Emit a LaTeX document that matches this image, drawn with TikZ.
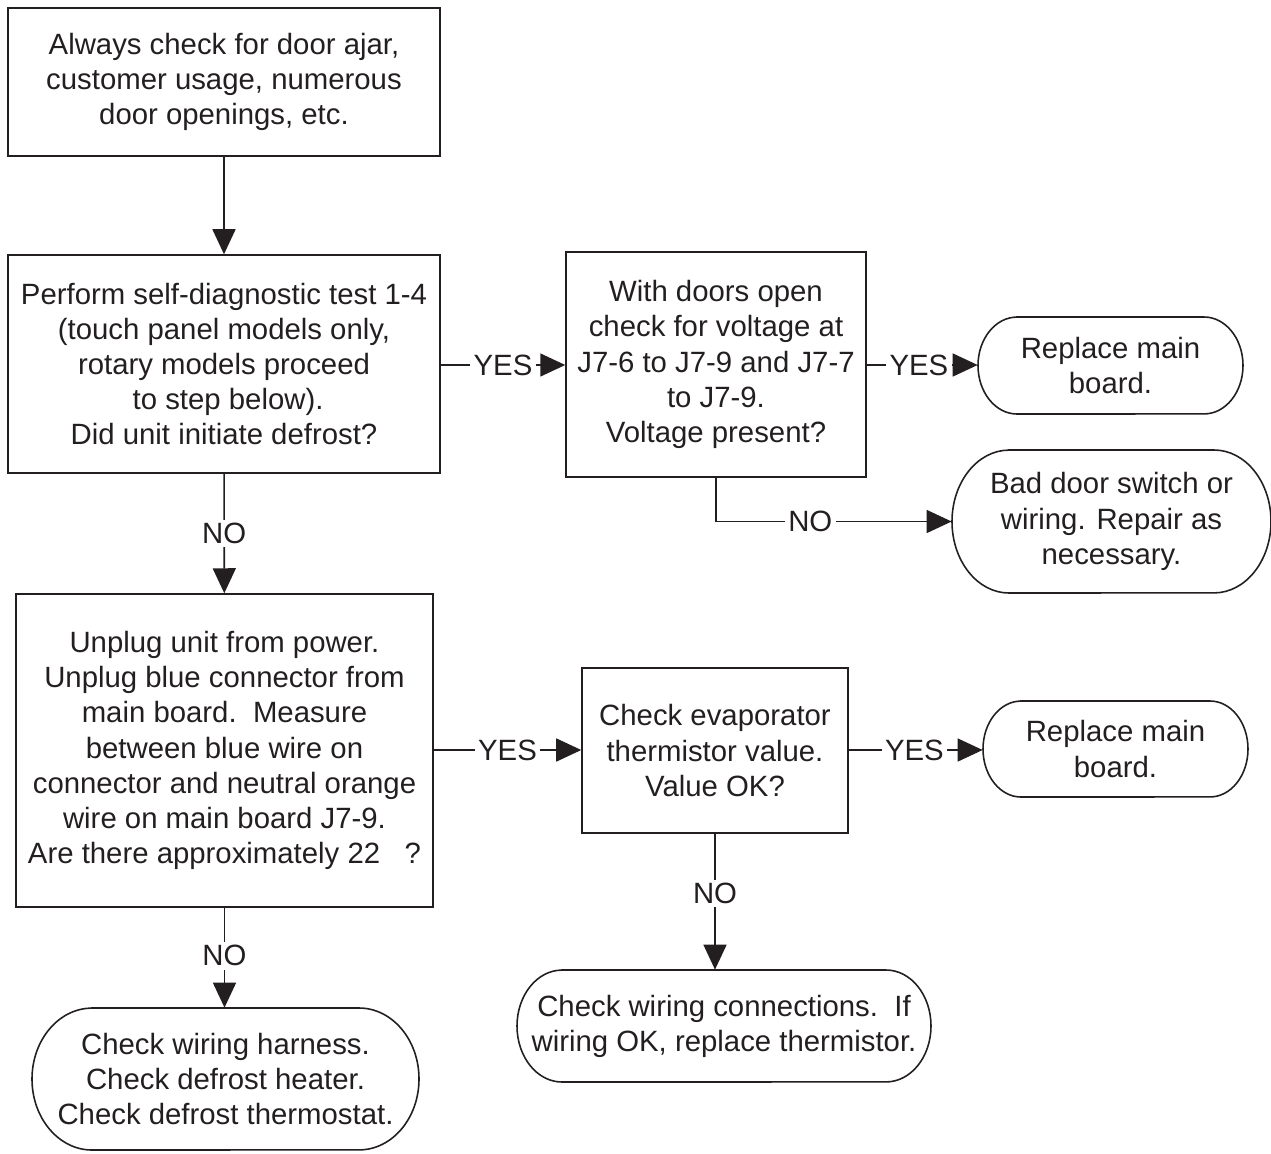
\documentclass[tikz,border=0pt]{standalone}
\usepackage{fontspec}
\setmainfont{Liberation Sans}
\usetikzlibrary{arrows.meta}
\definecolor{ink}{HTML}{231F20}
% #1 name, #2 cx, #3 cy, #4 w, #5 h, #6 rx (all px), #7 text
\newcommand\termbox[7]{%
  \node[termtext,minimum width=#4*0.02cm,minimum height=#5*0.02cm] (#1) at (#2,#3) {#7};
  \draw[outline] (#2-#4/2+#6,#3-#5/2) -- (#2+#4/2-#6,#3-#5/2)
    arc[start angle=90,end angle=-90,x radius=#6*0.02cm,y radius=#5*0.01cm]
    -- (#2-#4/2+#6,#3+#5/2)
    arc[start angle=270,end angle=90,x radius=#6*0.02cm,y radius=#5*0.01cm] -- cycle;}
\begin{document}
\begin{tikzpicture}[x=0.02cm,y=-0.02cm,
  every node/.style={text=ink,font=\fontsize{16.7}{20}\selectfont},
  outline/.style={draw=ink,line width=0.9pt},
  box/.style={outline,rectangle,align=center,inner sep=2pt},
  termtext/.style={rectangle,align=center,inner sep=2pt},
  conn/.style={draw=ink,line width=0.9pt,-{Triangle[length=0.5cm,width=0.46cm]}},
  lbl/.style={fill=white,inner sep=2pt}]
\useasboundingbox (0,0) rectangle (1271,1153);

\node[box,minimum width=8.64cm,minimum height=2.96cm] (b1) at (224,82)
  {Always check for door ajar,\\customer usage, numerous\\door openings, etc.};
\node[box,minimum width=8.64cm,minimum height=4.36cm] (b2) at (224,364)
  {Perform self-diagnostic test 1-4\\(touch panel models only,\\rotary models proceed\\\ to step below).\\Did unit initiate defrost?};
\node[box,minimum width=6.0cm,minimum height=4.5cm] (b3) at (716,364.5)
  {With doors open\\check for voltage at\\J7-6 to J7-9 and J7-7\\to J7-9.\\Voltage present?};
\termbox{t1}{1110.5}{365.5}{265}{97}{39}{Replace main\\board.}
\termbox{t2}{1111.5}{521.5}{319}{143}{57}{Bad door switch or\\wiring. Repair as\\necessary.}
\node[box,minimum width=8.34cm,minimum height=6.26cm] (b4) at (224.5,750.5)
  {Unplug unit from power.\\Unplug blue connector from\\main board.\ \ Measure\\between blue wire on\\connector and neutral orange\\wire on main board J7-9.\\Are there approximately 22\ \ \ ?};
\node[box,minimum width=5.32cm,minimum height=3.3cm] (b5) at (715,750.5)
  {Check evaporator\\thermistor value.\\Value OK?};
\termbox{t3}{1115.5}{749}{265}{96}{38}{Replace main\\board.}
\termbox{t4}{724}{1026}{414}{112}{45}{Check wiring connections.\ \ If\\wiring OK, replace thermistor.}
\termbox{t5}{225.5}{1079}{387}{142}{60}{Check wiring harness.\\Check defrost heater.\\Check defrost thermostat.}

\draw[conn] (b1) -- (b2);
\draw[conn] (b2.east |- 0,365) -- node[lbl,pos=0.5]{YES} (b3.west |- 0,365);
\draw[conn] (b3.east |- 0,365) -- node[lbl,pos=0.47]{YES} (t1.west |- 0,365);
\draw[conn] (b3.south) |- node[lbl,pos=0.7]{NO} (t2.west);
\draw[conn] (b2) -- node[lbl,pos=0.5]{NO} (b4);
\draw[conn] (b4.east |- 0,750) -- node[lbl,pos=0.5]{YES} (b5.west |- 0,750);
\draw[conn] (b5.east |- 0,750) -- node[lbl,pos=0.49]{YES} (t3.west |- 0,750);
\draw[conn] (b5.south) -- node[lbl,pos=0.44]{NO} (b5.south |- t4.north);
\draw[conn] (b4.south) -- node[lbl,pos=0.48]{NO} (b4.south |- t5.north);
\end{tikzpicture}
\end{document}
